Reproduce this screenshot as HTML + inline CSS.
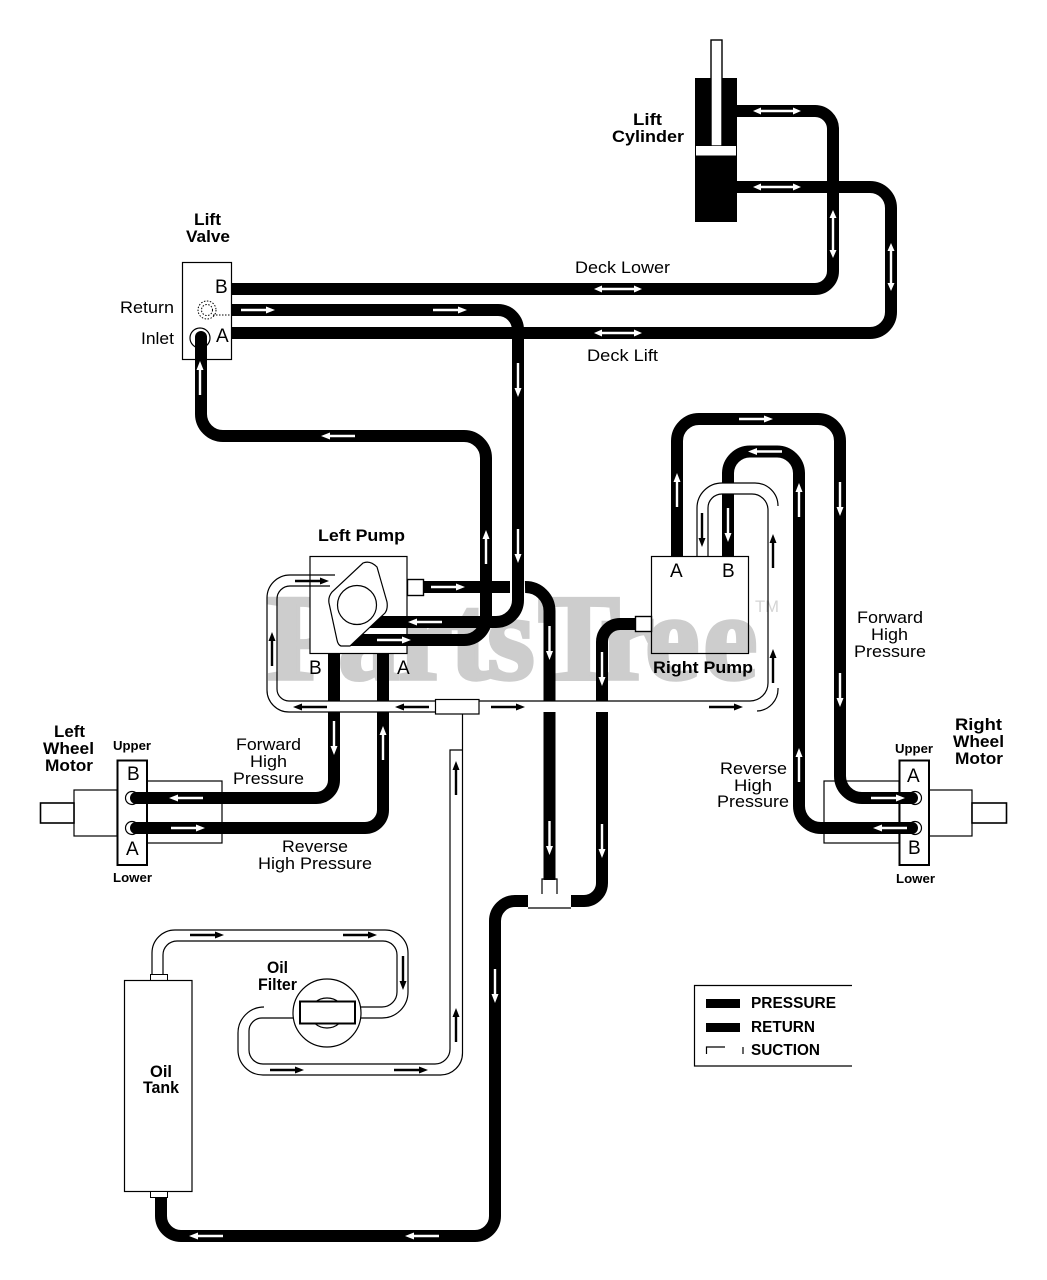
<!DOCTYPE html>
<html><head><meta charset="utf-8"><style>
html,body{margin:0;padding:0;background:#fff}
svg{display:block}
text{font-family:"Liberation Sans",sans-serif;fill:#000}
.b{font-weight:bold;font-size:17px}
.r{font-size:17px}
.c{font-size:19px}
.s{font-weight:bold;font-size:13px}
.l{font-weight:bold;font-size:16px}
.p{fill:none;stroke:#000;stroke-width:12}
.t{fill:none;stroke:#000;stroke-width:1.2}
.w{fill:none;stroke:#fff;stroke-width:11}
</style></head><body>
<svg width="1047" height="1280" viewBox="0 0 1047 1280" xmlns="http://www.w3.org/2000/svg">
<defs>
<path id="a" d="M-17,-1.200H8V-3.500L17,0L8,3.500V1.200H-17Z"/>
<path id="d" d="M-24,0l8,-3.500v2.300h32v-2.300l8,3.500l-8,3.500v-2.300h-32v2.300z"/>
</defs>

<!-- watermark -->
<text x="267 338 398 450 487 538 600 645 703" y="679" style="font-family:'Liberation Serif',serif;font-size:123px;font-weight:bold;fill:#cdcdcd;stroke:#cdcdcd;stroke-width:3.500px">PartsTree</text>

<!-- bodies under pipes -->
<rect x="695" y="78" width="42" height="144" fill="#000"/>
<rect x="711" y="40" width="11" height="106" fill="#fff" stroke="#000" stroke-width="1.400"/>
<rect x="696" y="146" width="40" height="9.500" fill="#fff"/>
<rect x="182.500" y="262.500" width="49" height="97" fill="#fff" stroke="#000" stroke-width="1.200"/>
<rect x="310" y="556.500" width="97" height="97" fill="#fff" stroke="#000" stroke-width="1.200"/>
<rect x="651.500" y="556.500" width="97" height="97" fill="none" stroke="#000" stroke-width="1.200"/>
<rect x="147" y="781" width="75" height="62" fill="#fff" stroke="#000" stroke-width="1.200"/>
<rect x="74" y="790" width="43" height="46" fill="#fff" stroke="#000" stroke-width="1.200"/>
<rect x="40.500" y="803" width="33.500" height="20" fill="#fff" stroke="#000" stroke-width="1.600"/>
<rect x="117.500" y="760.500" width="29.500" height="104.500" fill="#fff" stroke="#000" stroke-width="2"/>
<rect x="824" y="781" width="75" height="62" fill="#fff" stroke="#000" stroke-width="1.200"/>
<rect x="929" y="790" width="43" height="46" fill="#fff" stroke="#000" stroke-width="1.200"/>
<rect x="972" y="803" width="34.500" height="20" fill="#fff" stroke="#000" stroke-width="1.600"/>
<rect x="899.500" y="760.500" width="29.500" height="104.500" fill="#fff" stroke="#000" stroke-width="2"/>
<circle cx="200" cy="338" r="10" fill="#fff" stroke="#000" stroke-width="1.200"/>
<circle cx="132" cy="798" r="6.500" fill="#fff" stroke="#000" stroke-width="1.200"/>
<circle cx="132" cy="828" r="6.500" fill="#fff" stroke="#000" stroke-width="1.200"/>
<circle cx="915" cy="798" r="6.500" fill="#fff" stroke="#000" stroke-width="1.200"/>
<circle cx="915" cy="828" r="6.500" fill="#fff" stroke="#000" stroke-width="1.200"/>

<!-- black pipes -->
<path class="p" d="M737,111H815A18,18 0 0 1 833,129V271A18,18 0 0 1 815,289H232"/>
<path class="p" d="M737,187H870A21,21 0 0 1 891,208V312A21,21 0 0 1 870,333H232"/>
<path class="p" d="M232,310H498A20,20 0 0 1 518,330V600A22,22 0 0 1 496,622H340"/>
<path class="p" d="M201,337V414A22,22 0 0 0 223,436H464A22,22 0 0 1 486,458V618A22,22 0 0 1 464,640H345"/>
<circle cx="201" cy="337" r="6" fill="#000"/>
<path class="p" d="M423,587H510"/>
<path class="p" d="M525,587A24,24 0 0 1 549.500,611V880"/>
<path class="p" d="M571,901H584A18,18 0 0 0 602,883V642A18,18 0 0 1 620,624H636"/>
<path class="p" d="M528,901H515A20,20 0 0 0 495,921V1216A20,20 0 0 1 475,1236H181A20,20 0 0 1 161,1216V1195"/>
<path class="p" d="M334,653V780A18,18 0 0 1 316,798H136"/>
<path class="p" d="M383,653V810A18,18 0 0 1 365,828H136"/>
<path class="p" d="M677,557V441A22,22 0 0 1 699,419H818A22,22 0 0 1 840,441V776A22,22 0 0 0 862,798H912"/>
<path class="p" d="M728,557V473A22,22 0 0 1 750,451.500H777A22,22 0 0 1 799,473V806A22,22 0 0 0 821,828H912"/>
<g fill="#000"><circle cx="136" cy="798" r="6"/><circle cx="136" cy="828" r="6"/><circle cx="912" cy="798" r="6"/><circle cx="912" cy="828" r="6"/></g>

<!-- suction white bands over pipes -->
<path class="w" d="M289,706.500H435"/>
<path class="w" d="M479,706.500H750"/>
<path class="w" d="M715,488.500H760"/>
<text x="755" y="612" font-size="17" textLength="24" lengthAdjust="spacingAndGlyphs" style="fill:#d4d4d4">TM</text>

<!-- suction outlines -->
<path class="t" d="M335,575H290A23,23 0 0 0 267,598V690A22,22 0 0 0 289,712H435"/>
<path class="t" d="M330,586H290A13,13 0 0 0 277,599V689A12,12 0 0 0 289,701H435"/>
<path class="t" d="M479,701H750A18,18 0 0 0 768,683V510A16,16 0 0 0 752,494H722A14,14 0 0 0 708,508V557"/>
<path class="t" d="M697,557V508A25,25 0 0 1 722,483H755A23,23 0 0 1 778,506"/>
<path class="t" d="M757,711A22,22 0 0 0 778,688"/>
<path class="t" d="M152,974V953A23,23 0 0 1 175,930H385A23,23 0 0 1 408,953V992A26,26 0 0 1 382,1018H355"/>
<path class="t" d="M163,974V955A14,14 0 0 1 177,941H383A14,14 0 0 1 397,955V992A15,15 0 0 1 382,1007H355"/>
<path class="t" d="M264,1007A26,26 0 0 0 238,1033V1050A25,25 0 0 0 263,1075H440A22,22 0 0 0 462.500,1053V714"/>
<path class="t" d="M297,1018H262A13,13 0 0 0 249,1031V1050A14,14 0 0 0 263,1064H435A15,15 0 0 0 450,1049V750H462.500"/>
<rect x="435.500" y="699.500" width="43.500" height="14.500" fill="#fff" stroke="#000" stroke-width="1.200"/>
<path class="t" d="M528,908H571M542,894V879H557V894"/>

<!-- fittings -->
<rect x="407.500" y="579.500" width="16" height="16" fill="#fff" stroke="#000" stroke-width="1.400"/>
<rect x="635.500" y="616.500" width="16" height="15" fill="#fff" stroke="#000" stroke-width="1.400"/>
<rect x="150.500" y="974.500" width="17" height="6" fill="#fff" stroke="#000" stroke-width="1"/>
<rect x="124.500" y="980.500" width="67.500" height="211" fill="#fff" stroke="#000" stroke-width="1.200"/>
<rect x="150.500" y="1191.500" width="17" height="6" fill="#fff" stroke="#000" stroke-width="1"/>

<!-- left pump cam -->
<path d="M363,563Q370,560 377,567L387,602Q388,609 385,613L350,646L341,646Q338,645 337,640L329,603Q328,597 332,592Z" fill="#fff" stroke="#000" stroke-width="1.200"/>
<circle cx="357" cy="605" r="19.500" fill="#fff" stroke="#000" stroke-width="1.200"/>

<!-- lift valve return -->
<circle cx="207" cy="310" r="9" fill="none" stroke="#000" stroke-width="1" stroke-dasharray="1.500 1.500"/>
<circle cx="207" cy="310" r="5.500" fill="none" stroke="#000" stroke-width="1" stroke-dasharray="1.500 1.500"/>
<path d="M213,315H232" stroke="#000" stroke-width="1" stroke-dasharray="1.500 1.500"/>

<!-- oil filter -->
<circle cx="327" cy="1013" r="34" fill="#fff" stroke="#000" stroke-width="1.200"/>
<ellipse cx="327" cy="1013" rx="17" ry="15" fill="#fff" stroke="#000" stroke-width="1.200"/>
<rect x="300" y="1001.500" width="55" height="22" fill="#fff" stroke="#000" stroke-width="2"/>

<!-- white arrows -->
<g fill="#fff">
<use href="#a" transform="translate(258,310)"/>
<use href="#a" transform="translate(450,310)"/>
<use href="#a" transform="translate(518,380) rotate(90)"/>
<use href="#a" transform="translate(200,378) rotate(-90)"/>
<use href="#a" transform="translate(338,436) rotate(180)"/>
<use href="#d" transform="translate(618,289)"/>
<use href="#d" transform="translate(618,333)"/>
<use href="#d" transform="translate(777,111)"/>
<use href="#d" transform="translate(777,187)"/>
<use href="#d" transform="translate(833,234) rotate(90)"/>
<use href="#d" transform="translate(891,267) rotate(90)"/>
<use href="#a" transform="translate(486,547) rotate(-90)"/>
<use href="#a" transform="translate(518,546) rotate(90)"/>
<use href="#a" transform="translate(448,587)"/>
<use href="#a" transform="translate(425,622) rotate(180)"/>
<use href="#a" transform="translate(394,640)"/>
<use href="#a" transform="translate(549.500,643) rotate(90)"/>
<use href="#a" transform="translate(334,738) rotate(90)"/>
<use href="#a" transform="translate(383,743) rotate(-90)"/>
<use href="#a" transform="translate(186,798) rotate(180)"/>
<use href="#a" transform="translate(188,828)"/>
<use href="#a" transform="translate(549.500,838) rotate(90)"/>
<use href="#a" transform="translate(602,841) rotate(90)"/>
<use href="#a" transform="translate(602,669) rotate(90)"/>
<use href="#a" transform="translate(495,986) rotate(90)"/>
<use href="#a" transform="translate(206,1236) rotate(180)"/>
<use href="#a" transform="translate(422,1236) rotate(180)"/>
<use href="#a" transform="translate(677,490) rotate(-90)"/>
<use href="#a" transform="translate(756,419)"/>
<use href="#a" transform="translate(765,451.500) rotate(180)"/>
<use href="#a" transform="translate(799,500) rotate(-90)"/>
<use href="#a" transform="translate(728,525) rotate(90)"/>
<use href="#a" transform="translate(840,499) rotate(90)"/>
<use href="#a" transform="translate(840,690) rotate(90)"/>
<use href="#a" transform="translate(799,765) rotate(-90)"/>
<use href="#a" transform="translate(888,798)"/>
<use href="#a" transform="translate(890,828) rotate(180)"/>
</g>
<!-- black arrows -->
<g fill="#000">
<use href="#a" transform="translate(312,581)"/>
<use href="#a" transform="translate(272,649) rotate(-90)"/>
<use href="#a" transform="translate(310,707) rotate(180)"/>
<use href="#a" transform="translate(412,707) rotate(180)"/>
<use href="#a" transform="translate(508,707)"/>
<use href="#a" transform="translate(726,707)"/>
<use href="#a" transform="translate(773,551) rotate(-90)"/>
<use href="#a" transform="translate(773,666) rotate(-90)"/>
<use href="#a" transform="translate(702,530) rotate(90)"/>
<use href="#a" transform="translate(207,935)"/>
<use href="#a" transform="translate(360,935)"/>
<use href="#a" transform="translate(403,973) rotate(90)"/>
<use href="#a" transform="translate(287,1070)"/>
<use href="#a" transform="translate(411,1070)"/>
<use href="#a" transform="translate(456,1025) rotate(-90)"/>
<use href="#a" transform="translate(456,778) rotate(-90)"/>
</g>

<!-- labels -->
<text class="b" x="633" y="125" textLength="29" lengthAdjust="spacingAndGlyphs">Lift</text>
<text class="b" x="612" y="142" textLength="72" lengthAdjust="spacingAndGlyphs">Cylinder</text>
<text class="b" x="194" y="225" textLength="27" lengthAdjust="spacingAndGlyphs">Lift</text>
<text class="b" x="186" y="242" textLength="44" lengthAdjust="spacingAndGlyphs">Valve</text>
<text class="r" x="120" y="313" textLength="54" lengthAdjust="spacingAndGlyphs">Return</text>
<text class="r" x="141" y="344" textLength="33" lengthAdjust="spacingAndGlyphs">Inlet</text>
<text class="c" x="215" y="293">B</text>
<text class="c" x="216" y="342">A</text>
<text class="r" x="575" y="273" textLength="95" lengthAdjust="spacingAndGlyphs">Deck Lower</text>
<text class="r" x="587" y="361" textLength="71" lengthAdjust="spacingAndGlyphs">Deck Lift</text>
<text class="b" x="318" y="541" textLength="87" lengthAdjust="spacingAndGlyphs">Left Pump</text>
<text class="c" x="309" y="674">B</text>
<text class="c" x="397" y="674">A</text>
<text class="c" x="670" y="577">A</text>
<text class="c" x="722" y="577">B</text>
<text class="b" x="653" y="673" textLength="100" lengthAdjust="spacingAndGlyphs">Right Pump</text>
<text class="b" x="54" y="737" textLength="31" lengthAdjust="spacingAndGlyphs">Left</text>
<text class="b" x="43" y="754" textLength="51" lengthAdjust="spacingAndGlyphs">Wheel</text>
<text class="b" x="45" y="771" textLength="48" lengthAdjust="spacingAndGlyphs">Motor</text>
<text class="s" x="113" y="750" textLength="38" lengthAdjust="spacingAndGlyphs">Upper</text>
<text class="s" x="113" y="882" textLength="39" lengthAdjust="spacingAndGlyphs">Lower</text>
<text class="c" x="127" y="780">B</text>
<text class="c" x="126" y="855">A</text>
<text class="r" x="236" y="750" textLength="65" lengthAdjust="spacingAndGlyphs">Forward</text>
<text class="r" x="250" y="767" textLength="37" lengthAdjust="spacingAndGlyphs">High</text>
<text class="r" x="233" y="784" textLength="71" lengthAdjust="spacingAndGlyphs">Pressure</text>
<text class="r" x="282" y="852" textLength="66" lengthAdjust="spacingAndGlyphs">Reverse</text>
<text class="r" x="258" y="869" textLength="114" lengthAdjust="spacingAndGlyphs">High Pressure</text>
<text class="b" x="955" y="730" textLength="47" lengthAdjust="spacingAndGlyphs">Right</text>
<text class="b" x="953" y="747" textLength="51" lengthAdjust="spacingAndGlyphs">Wheel</text>
<text class="b" x="955" y="764" textLength="48" lengthAdjust="spacingAndGlyphs">Motor</text>
<text class="s" x="895" y="753" textLength="38" lengthAdjust="spacingAndGlyphs">Upper</text>
<text class="s" x="896" y="883" textLength="39" lengthAdjust="spacingAndGlyphs">Lower</text>
<text class="c" x="907" y="782">A</text>
<text class="c" x="908" y="854">B</text>
<text class="r" x="857" y="623" textLength="66" lengthAdjust="spacingAndGlyphs">Forward</text>
<text class="r" x="871" y="640" textLength="37" lengthAdjust="spacingAndGlyphs">High</text>
<text class="r" x="854" y="657" textLength="72" lengthAdjust="spacingAndGlyphs">Pressure</text>
<text class="r" x="720" y="774" textLength="67" lengthAdjust="spacingAndGlyphs">Reverse</text>
<text class="r" x="734" y="791" textLength="38" lengthAdjust="spacingAndGlyphs">High</text>
<text class="r" x="717" y="807" textLength="72" lengthAdjust="spacingAndGlyphs">Pressure</text>
<text class="b" x="267" y="973" textLength="21" lengthAdjust="spacingAndGlyphs">Oil</text>
<text class="b" x="258" y="990" textLength="39" lengthAdjust="spacingAndGlyphs">Filter</text>
<text class="b" x="150" y="1077" textLength="22" lengthAdjust="spacingAndGlyphs">Oil</text>
<text class="b" x="143" y="1093" textLength="36" lengthAdjust="spacingAndGlyphs">Tank</text>

<!-- legend -->
<path class="t" d="M852,985.500H694.500V1066H852"/>
<rect x="706" y="999" width="34" height="9" fill="#000"/>
<rect x="706" y="1023" width="34" height="9" fill="#000"/>
<path class="t" d="M706.500,1054V1047H725M743,1047V1054"/>
<text class="l" x="751" y="1008" textLength="85" lengthAdjust="spacingAndGlyphs">PRESSURE</text>
<text class="l" x="751" y="1032" textLength="64" lengthAdjust="spacingAndGlyphs">RETURN</text>
<text class="l" x="751" y="1055" textLength="69" lengthAdjust="spacingAndGlyphs">SUCTION</text>
</svg>
</body></html>
